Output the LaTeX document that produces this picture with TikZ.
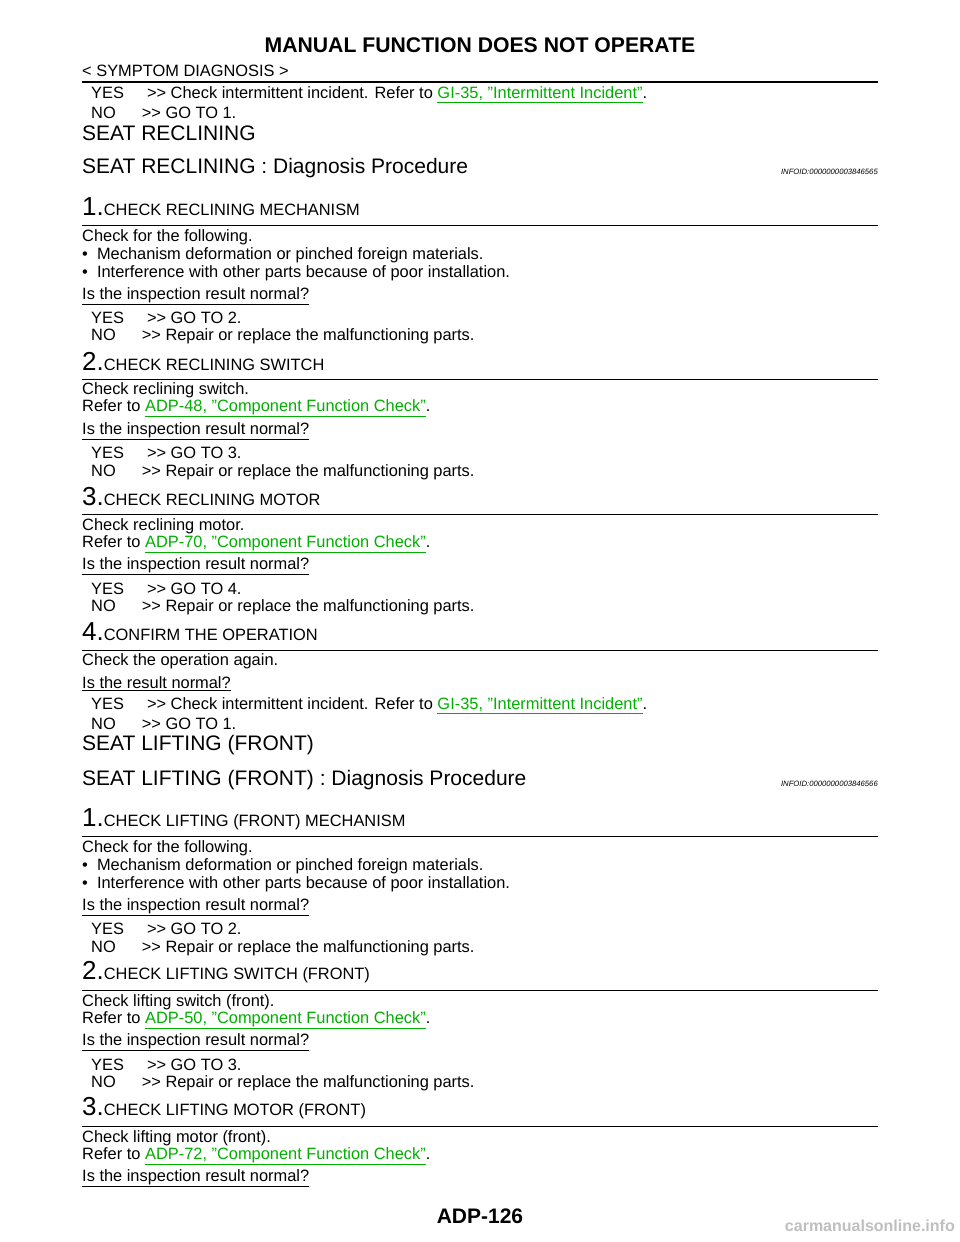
\documentclass[tikz,border=0pt]{standalone}
\usepackage{fontspec}
\setmainfont{Liberation Sans}[Ligatures=NoCommon]
\definecolor{linkgreen}{RGB}{0,175,0}
\newcommand*\lnk[1]{\textcolor{linkgreen}{\underline{#1}}}
\newcommand*\qt{\symbol{34}}
\newcommand*\gt{>{}>}
\newcommand*\stepnum[2]{{\fontsize{26}{26}\selectfont #1.}#2}
\tikzset{
  body/.style={anchor=west, inner sep=0pt, font=\fontsize{16.4}{18}\selectfont},
  head/.style={anchor=west, inner sep=0pt, font=\fontsize{21}{24}\selectfont},
  infoid/.style={anchor=east, inner sep=0pt, font=\fontsize{7.7}{8}\selectfont\itshape},
  steprule/.style={line width=0.8pt},
}
\begin{document}
\begin{tikzpicture}[x=1pt,y=-1pt]
\useasboundingbox[fill=white] (0,0) rectangle (960,1242);
% page header
\node[inner sep=0pt, font=\fontsize{21.2}{22}\selectfont\bfseries] (title) at (480,45) {MANUAL FUNCTION DOES NOT OPERATE};
\node[body] (sect) at (82,71) {< SYMPTOM DIAGNOSIS >};
\draw[line width=2pt] (82,82) -- (878,82);
% answers from previous page
\node[body] (y0) at (91,95) {YES\hspace{23pt}\gt{} Check intermittent incident. Refer to \lnk{GI-35, \qt Intermittent Incident\qt}.};
\node[body] (n0) at (91,113) {NO\hspace{26pt}\gt{} GO TO 1.};
% seat reclining
\node[head] (rec) at (82,133) {SEAT RECLINING};
\node[head] (recdp) at (82,168) {SEAT RECLINING : Diagnosis Procedure};
\node[infoid] (rid) at (878,172) {INFOID:0000000003846565};
% step 1
\node[body] (r1) at (82,207) {\stepnum{1}{CHECK RECLINING MECHANISM}};
\draw[steprule] (82,225) -- (878,225);
\node[body] (r1a) at (82,237) {Check for the following.};
\node[body] (r1b) at (82,255) {•\ \ Mechanism deformation or pinched foreign materials.};
\node[body] (r1c) at (82,273) {•\ \ Interference with other parts because of poor installation.};
\node[body] (r1q) at (82,296) {\underline{Is the inspection result normal?}};
\node[body] (r1y) at (91,318) {YES\hspace{23pt}\gt{} GO TO 2.};
\node[body] (r1n) at (91,336) {NO\hspace{26pt}\gt{} Repair or replace the malfunctioning parts.};
% step 2
\node[body] (r2) at (82,361) {\stepnum{2}{CHECK RECLINING SWITCH}};
\draw[steprule] (82,379) -- (878,379);
\node[body] (r2a) at (82,390) {Check reclining switch.};
\node[body] (r2b) at (82,408) {Refer to \lnk{ADP-48, \qt Component Function Check\qt}.};
\node[body] (r2q) at (82,431) {\underline{Is the inspection result normal?}};
\node[body] (r2y) at (91,453) {YES\hspace{23pt}\gt{} GO TO 3.};
\node[body] (r2n) at (91,472) {NO\hspace{26pt}\gt{} Repair or replace the malfunctioning parts.};
% step 3
\node[body] (r3) at (82,497) {\stepnum{3}{CHECK RECLINING MOTOR}};
\draw[steprule] (82,514) -- (878,514);
\node[body] (r3a) at (82,526) {Check reclining motor.};
\node[body] (r3b) at (82,544) {Refer to \lnk{ADP-70, \qt Component Function Check\qt}.};
\node[body] (r3q) at (82,566) {\underline{Is the inspection result normal?}};
\node[body] (r3y) at (91,589) {YES\hspace{23pt}\gt{} GO TO 4.};
\node[body] (r3n) at (91,607) {NO\hspace{26pt}\gt{} Repair or replace the malfunctioning parts.};
% step 4
\node[body] (r4) at (82,632) {\stepnum{4}{CONFIRM THE OPERATION}};
\draw[steprule] (82,650) -- (878,650);
\node[body] (r4a) at (82,661) {Check the operation again.};
\node[body] (r4q) at (82,684) {\underline{Is the result normal?}};
\node[body] (r4y) at (91,706) {YES\hspace{23pt}\gt{} Check intermittent incident. Refer to \lnk{GI-35, \qt Intermittent Incident\qt}.};
\node[body] (r4n) at (91,724) {NO\hspace{26pt}\gt{} GO TO 1.};
% seat lifting (front)
\node[head] (lif) at (82,745) {SEAT LIFTING (FRONT)};
\node[head] (lifdp) at (82,780) {SEAT LIFTING (FRONT) : Diagnosis Procedure};
\node[infoid] (lid) at (878,784) {INFOID:0000000003846566};
% step 1
\node[body] (l1) at (82,819) {\stepnum{1}{CHECK LIFTING (FRONT) MECHANISM}};
\draw[steprule] (82,836) -- (878,836);
\node[body] (l1a) at (82,848) {Check for the following.};
\node[body] (l1b) at (82,866) {•\ \ Mechanism deformation or pinched foreign materials.};
\node[body] (l1c) at (82,884) {•\ \ Interference with other parts because of poor installation.};
\node[body] (l1q) at (82,907) {\underline{Is the inspection result normal?}};
\node[body] (l1y) at (91,929) {YES\hspace{23pt}\gt{} GO TO 2.};
\node[body] (l1n) at (91,948) {NO\hspace{26pt}\gt{} Repair or replace the malfunctioning parts.};
% step 2
\node[body] (l2) at (82,972) {\stepnum{2}{CHECK LIFTING SWITCH (FRONT)}};
\draw[steprule] (82,990) -- (878,990);
\node[body] (l2a) at (82,1002) {Check lifting switch (front).};
\node[body] (l2b) at (82,1020) {Refer to \lnk{ADP-50, \qt Component Function Check\qt}.};
\node[body] (l2q) at (82,1042) {\underline{Is the inspection result normal?}};
\node[body] (l2y) at (91,1065) {YES\hspace{23pt}\gt{} GO TO 3.};
\node[body] (l2n) at (91,1083) {NO\hspace{26pt}\gt{} Repair or replace the malfunctioning parts.};
% step 3
\node[body] (l3) at (82,1108) {\stepnum{3}{CHECK LIFTING MOTOR (FRONT)}};
\draw[steprule] (82,1126) -- (878,1126);
\node[body] (l3a) at (82,1138) {Check lifting motor (front).};
\node[body] (l3b) at (82,1156) {Refer to \lnk{ADP-72, \qt Component Function Check\qt}.};
\node[body] (l3q) at (82,1178) {\underline{Is the inspection result normal?}};
% footer
\node[inner sep=0pt, font=\fontsize{21}{22}\selectfont\bfseries] (page) at (480,1216) {ADP-126};
\node[anchor=east, inner sep=0pt, text=black!25, font=\fontsize{16}{18}\selectfont\bfseries] (wm) at (955,1226) {carmanualsonline.info};
\end{tikzpicture}
\end{document}
